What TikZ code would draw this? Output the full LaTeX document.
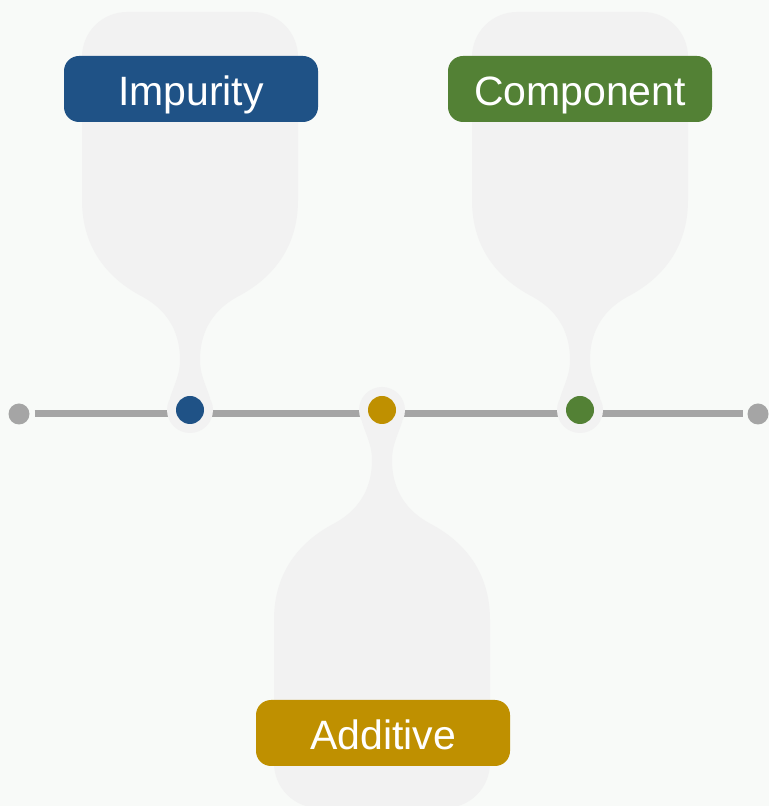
\documentclass[tikz,border=0pt]{standalone}
\usepackage{fontspec}
\setmainfont{Liberation Sans}
\usetikzlibrary{positioning}

\definecolor{bgcol}{HTML}{F8FAF8}
\definecolor{ballooncol}{HTML}{F2F2F2}
\definecolor{trackgray}{HTML}{A5A5A5}
\definecolor{impblue}{HTML}{1F5286}
\definecolor{compgreen}{HTML}{538135}
\definecolor{addgold}{HTML}{BF9000}

\tikzset{
    tag/.style={
        rounded corners=15pt,
        minimum height=66pt,
        inner sep=0pt,
        text=white,
        font=\fontsize{41}{49}\selectfont,
        text height=34pt,
        text depth=0pt},
    dot/.style={
        circle,
        inner sep=0pt,
        minimum size=28pt},
    enddot/.style={
        circle,
        fill=trackgray,
        inner sep=0pt,
        minimum size=21pt,
        outer sep=5pt},
    balloon/.pic={
        \fill[ballooncol] (-108,353)
            .. controls (-108,377.85) and (-87.85,398) .. (-63,398)
            -- (63,398)
            .. controls (87.85,398) and (108,377.85) .. (108,353)
            -- (108,210)
            .. controls (108,160) and (80,130) .. (47,113)
            .. controls (20,98) and (10,75) .. (10,50)
            .. controls (10,35) and (16,25) .. (20,12)
            -- (-20,12)
            .. controls (-16,25) and (-10,35) .. (-10,50)
            .. controls (-10,75) and (-20,98) .. (-47,113)
            .. controls (-80,130) and (-108,160) .. (-108,210)
            -- cycle;
        \fill[ballooncol] (0,0) circle (23pt);
    }
}

\begin{document}
\begin{tikzpicture}[x=1pt, y=1pt]
    \useasboundingbox (0,0) rectangle (769,806);
    \fill[bgcol] (0,0) rectangle (769,806);

    % track
    \node[enddot] (lend) at (19,392) {};
    \node[enddot] (rend) at (758,392) {};
    \draw[trackgray, line width=7pt] (lend) -- (rend);

    % balloons
    \pic at (190,396) {balloon};
    \pic[yscale=-1] at (382,396) {balloon};
    \pic at (580,396) {balloon};

    % dots on the track
    \node[dot, fill=impblue] (dimp) at (190,396) {};
    \node[dot, fill=addgold] (dadd) at (382,396) {};
    \node[dot, fill=compgreen] (dcomp) at (580,396) {};

    % labels
    \node[tag, fill=impblue, minimum width=254pt] (impurity) at (191,717) {Impurity};
    \node[tag, fill=compgreen, minimum width=264pt] (component) at (580,717) {Component};
    \node[tag, fill=addgold, minimum width=254pt] (additive) at (383,73) {Additive};
\end{tikzpicture}
\end{document}
